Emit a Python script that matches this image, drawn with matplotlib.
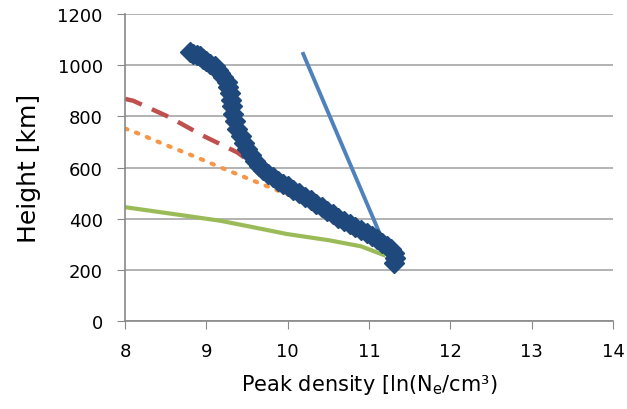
import matplotlib
matplotlib.use("Agg")
import matplotlib.pyplot as plt

# Measured profile (dark blue diamonds)
meas_x = [8.80, 8.84, 8.88, 8.92, 8.96, 9.00, 9.05, 9.10, 9.14, 9.17, 9.21,
          9.25, 9.27, 9.29, 9.30, 9.31, 9.33, 9.35, 9.38, 9.42, 9.46, 9.50,
          9.55, 9.60, 9.65, 9.70, 9.76, 9.82, 9.88, 9.94, 10.00, 10.07, 10.14,
          10.21, 10.28, 10.35, 10.42, 10.48, 10.55, 10.62, 10.69, 10.76, 10.83,
          10.90, 10.97, 11.04, 11.10, 11.16, 11.22, 11.27, 11.30, 11.32, 11.30]
meas_y = [1050, 1045, 1040, 1035, 1025, 1015, 1005, 995, 982, 970, 955,
          935, 915, 890, 865, 840, 810, 780, 750, 722, 697, 672,
          648, 625, 606, 590, 575, 561, 549, 537, 526, 514, 500,
          486, 472, 458, 444, 430, 417, 404, 392, 380, 368,
          357, 345, 334, 320, 306, 292, 280, 265, 245, 225]

# Model curves
lblue_x = [10.19, 10.70, 11.20]
lblue_y = [1044, 663, 290]

red_x = [8.00, 8.10, 8.55, 8.96, 9.38, 9.66, 9.99, 10.48, 10.89, 11.22]
red_y = [868, 861, 796, 724, 659, 594, 529, 438, 360, 290]

orange_x = [8.00, 8.08, 8.47, 8.88, 9.17, 9.58, 9.99, 10.48, 10.89, 11.22]
orange_y = [752, 744, 692, 640, 601, 548, 496, 425, 350, 285]

green_x = [8.00, 8.60, 9.17, 9.60, 9.99, 10.50, 10.90, 11.18]
green_y = [445, 418, 392, 365, 340, 316, 292, 258]

fig = plt.figure(figsize=(6.27, 4.10), dpi=100)
ax = fig.add_axes([0.1994, 0.2146, 0.7786, 0.7488])

ax.plot(green_x, green_y, color="#9BBB59", lw=3, zorder=2)
ax.plot(orange_x, orange_y, color="#F79646", lw=3, ls=(0, (0.6, 2.2)),
        dash_capstyle="round", zorder=2)
ax.plot(red_x, red_y, color="#C0504D", lw=3.2, ls=(0, (4, 2.5)), zorder=2)
ax.plot(lblue_x, lblue_y, color="#4F81BD", lw=2.8, zorder=2)
ax.plot(meas_x, meas_y, color="#1F497D", lw=3, marker="D", ms=10,
        markeredgecolor="#1F497D", zorder=3)

ax.set_xlim(8, 14)
ax.set_ylim(0, 1200)
ax.set_xticks(range(8, 15))
ax.set_yticks(range(0, 1201, 200))

ax.yaxis.grid(True, color="#A6A6A6", lw=1.2)
ax.set_axisbelow(True)
for side in ("top", "right"):
    ax.spines[side].set_visible(False)
for side in ("left", "bottom"):
    ax.spines[side].set_color("#888888")
    ax.spines[side].set_linewidth(1.2)
ax.tick_params(axis="x", direction="out", length=6, color="#888888",
               labelsize=13, pad=9)
ax.tick_params(axis="y", direction="out", length=6, color="#888888",
               labelsize=13, pad=10)

ax.set_xlabel("Peak density [ln(N$_\\mathregular{e}$/cm³)", fontsize=15,
              labelpad=9)
ax.set_ylabel("Height [km]", fontsize=18, labelpad=12)

fig.savefig("out.png", dpi=100)
